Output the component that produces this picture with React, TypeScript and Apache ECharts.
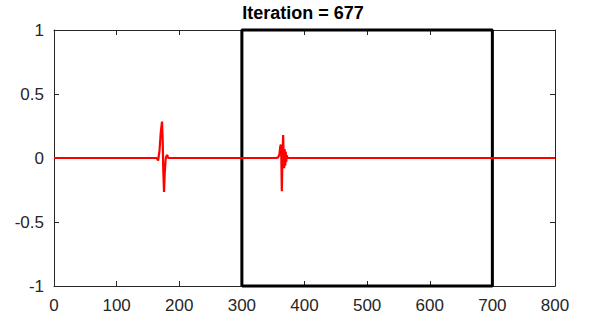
import React, { useEffect, useRef } from "react";
import * as echarts from "echarts";

const titleText = "Iteration = 677";
const xTicks = { min: 0, max: 800, interval: 100 };
const yTicks = { min: -1, max: 1, interval: 0.5 };

// waveform samples (x position, amplitude)
const waveX = [
  0, 160, 164, 166.3, 168.5, 170.5, 172.5, 173.5, 174.5, 175.7, 177, 178.5, 180.5, 182.5, 185,
  355, 358, 360, 361.3, 362.2, 363, 363.8, 364.8, 365.9, 366.8, 367.5, 368.3, 369.2, 370, 370.8, 371.6, 373,
  800,
];
const waveY = [
  0, 0, 0, -0.02, 0.06, 0.2, 0.285, 0.15, -0.1, -0.265, -0.1, 0.0, 0.025, 0.0, 0,
  0, 0.005, 0.03, 0.09, 0.105, 0.0, -0.26, 0.0, 0.18, 0.0, -0.08, 0.07, -0.06, 0.05, -0.03, 0.02, 0,
  0,
];

// window rectangle corners
const boxX = [300, 300, 700, 700, 300];
const boxY = [-1, 1, 1, -1, -1];

const axisColor = "#262626";
const font = "'Liberation Sans', Arial, Helvetica, sans-serif";

export default function App() {
  const ref = useRef<HTMLDivElement>(null);
  useEffect(() => {
    if (!ref.current) return;
    const chart = echarts.init(ref.current, undefined, { renderer: "svg" });
    const baseX = {
      type: "value" as const,
      min: xTicks.min,
      max: xTicks.max,
      interval: xTicks.interval,
      splitLine: { show: false },
      axisLine: { show: true, onZero: false, lineStyle: { color: axisColor, width: 1 } },
      axisTick: { show: true, inside: true, length: 5, lineStyle: { color: axisColor } },
    };
    const baseY = {
      type: "value" as const,
      min: yTicks.min,
      max: yTicks.max,
      interval: yTicks.interval,
      splitLine: { show: false },
      axisLine: { show: true, onZero: false, lineStyle: { color: axisColor, width: 1 } },
      axisTick: { show: true, inside: true, length: 5, lineStyle: { color: axisColor } },
    };
    chart.setOption({
      animation: false,
      backgroundColor: "#ffffff",
      title: {
        text: titleText,
        left: 303,
        top: 4,
        padding: 0,
        textAlign: "center",
        textStyle: { fontFamily: font, fontSize: 18, fontWeight: "bold", color: "#000000" },
      },
      grid: { left: 54, right: 35, top: 30, bottom: 34, containLabel: false },
      xAxis: [
        {
          ...baseX,
          position: "bottom",
          axisLabel: { show: true, fontFamily: font, fontSize: 17, color: axisColor, margin: 11 },
        },
        { ...baseX, position: "top", axisLabel: { show: false } },
      ],
      yAxis: [
        {
          ...baseY,
          position: "left",
          axisLabel: { show: true, fontFamily: font, fontSize: 17, color: axisColor, margin: 10 },
        },
        { ...baseY, position: "right", axisLabel: { show: false } },
      ],
      series: [
        {
          type: "line",
          data: boxX.map((x, i) => [x, boxY[i]]),
          showSymbol: false,
          symbol: "none",
          clip: false,
          lineStyle: { color: "#000000", width: 3 },
          z: 3,
        },
        {
          type: "line",
          data: waveX.map((x, i) => [x, waveY[i]]),
          showSymbol: false,
          symbol: "none",
          clip: false,
          lineStyle: { color: "#ff0000", width: 2.2 },
          z: 4,
        },
      ],
    });
    return () => chart.dispose();
  }, []);
  return (
    <div
      ref={ref}
      style={{ position: "fixed", left: 0, top: 0, width: 590, height: 320, background: "#fff" }}
    />
  );
}
